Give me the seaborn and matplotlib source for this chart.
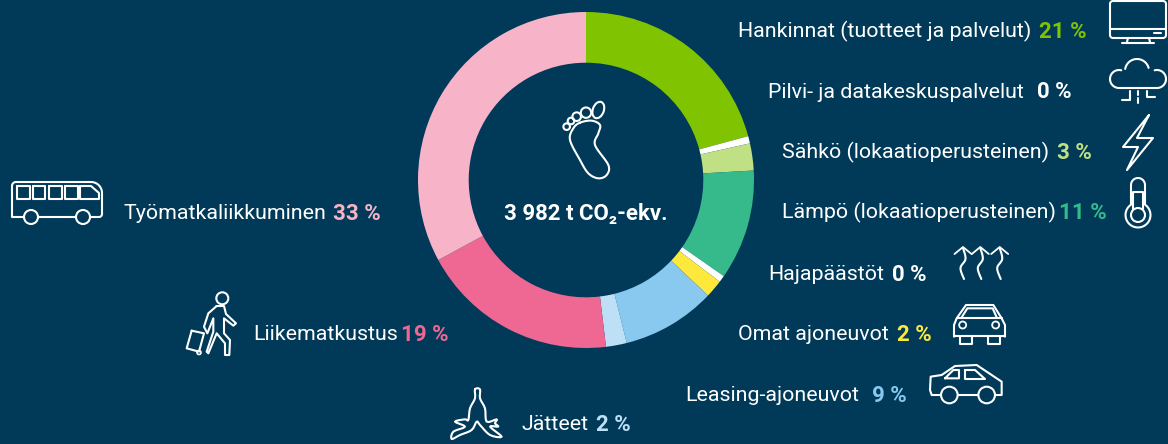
import numpy as np
import matplotlib
matplotlib.use('Agg')
import matplotlib.pyplot as plt
from matplotlib.patches import Circle, Ellipse
import seaborn as sns

# data
labels = ['Hankinnat (tuotteet ja palvelut)', 'Pilvi- ja datakeskuspalvelut', 'Sähkö (lokaatioperusteinen)',
          'Lämpö (lokaatioperusteinen)', 'Hajapäästöt', 'Omat ajoneuvot', 'Leasing-ajoneuvot', 'Jätteet',
          'Liikematkustus', 'Työmatkaliikkuminen']
percents = [21, 0, 3, 11, 0, 2, 9, 2, 19, 33]
# shares as drawn in the ring (the 0 % sectors still show as a thin sliver)
shares = [20.8, 0.7, 2.6, 10.6, 0.65, 1.72, 9.03, 2.0, 19.0, 32.9]
hex_colors = ['#80C300', '#FFFFFF', '#C0E084', '#36BA8C', '#FFFFFF', '#FFE83C', '#89C9F0', '#BDE0F7', '#EE6893',
              '#F7B3C8']
total_text = '3 982 t CO₂-ekv.'

BG = '#003A58'
W, H = 1168, 444

sns.set_theme(style='white', rc={'figure.facecolor': BG, 'savefig.facecolor': BG, 'axes.facecolor': BG})
plt.rcParams['font.family'] = ['Roboto', 'DejaVu Sans']
palette = sns.color_palette(hex_colors)

fig = plt.figure(figsize=(W / 100, H / 100), dpi=100)

# ring
cx, cy, R = 586, 180, 168
ax = fig.add_axes([(cx - R) / W, 1 - (cy + R) / H, 2 * R / W, 2 * R / H])
ax.pie(shares, colors=palette, startangle=90, counterclock=False, radius=1,
       wedgeprops={'width': 1 - 117.3 / R, 'linewidth': 0})
ax.set_xlim(-1, 1)
ax.set_ylim(-1, 1)
ax.axis('off')

# overlay in pixel coordinates for the texts and icons
ov = fig.add_axes([0, 0, 1, 1])
ov.set_xlim(0, W)
ov.set_ylim(H, 0)
ov.axis('off')
ov.patch.set_alpha(0)

label_left = [738, 768, 782, 782, 768, 738, 685, 521, 253, 123]
label_right = [1087, 1072, 1092, 1107, 927, 932, 907, 631, 449, 381]
label_y = [29, 90, 150, 210, 272, 332, 393, 422, 332, 211]
for i in range(len(labels)):
    ov.text(label_right[i], label_y[i], str(percents[i]) + ' %', color=palette[i], fontsize=16, fontweight='bold',
            ha='right', va='center_baseline')
    ov.text(label_left[i], label_y[i], labels[i], color='white', fontsize=15.4, ha='left', va='center_baseline')

ov.text(586, 211, total_text, color='white', fontsize=16, fontweight='bold', ha='center', va='center_baseline')


# icon helpers
def line(pts, close=False, lw=1.5):
    pts = np.array(pts, dtype=float)
    if close:
        pts = np.vstack([pts, pts[:1]])
    ov.plot(pts[:, 0], pts[:, 1], color='white', lw=lw, solid_joinstyle='round', solid_capstyle='round')


def smooth(pts, close=True, n=10):
    # catmull-rom through the points
    p = np.array(pts, dtype=float)
    if close:
        p = np.vstack([p[-1], p, p[:2]])
    else:
        p = np.vstack([p[0], p, p[-1]])
    out = []
    for i in range(1, len(p) - 2):
        for t in np.linspace(0, 1, n, endpoint=False):
            out.append(0.5 * (2 * p[i] + (p[i + 1] - p[i - 1]) * t + (2 * p[i - 1] - 5 * p[i] + 4 * p[i + 1] - p[i + 2]) * t ** 2
                              + (3 * p[i] - p[i - 1] - 3 * p[i + 1] + p[i + 2]) * t ** 3))
    out.append(p[-2])
    line(out)


def arc(x, y, r, a0, a1):
    a = np.radians(np.linspace(a0, a1, 30))
    line(np.column_stack([x + r * np.cos(a), y + r * np.sin(a)]))


def circ(x, y, r, lw=1.5):
    ov.add_patch(Circle((x, y), r, fill=False, ec='white', lw=lw))


def zoomed(pts, ox, oy):
    return [(ox + a / 3, oy + b / 3) for a, b in pts]


# monitor
line([(1113, 1), (1163, 1)]); arc(1163, 4, 3, -90, 0); line([(1166, 4), (1166, 35)]); arc(1163, 35, 3, 0, 90)
line([(1163, 38), (1113, 38)]); arc(1113, 35, 3, 90, 180); line([(1110, 35), (1110, 4)]); arc(1113, 4, 3, 180, 270)
line([(1110, 29), (1166, 29)])
line([(1154, 33), (1161, 33)])
line([(1128, 38), (1127, 42)]); line([(1149, 38), (1150, 42)]); line([(1122, 43), (1154, 43)])

# cloud
arc(1119, 79, 9, 90, 285)
arc(1137, 71, 12, 190, 345)
arc(1157, 79, 9, -105, 90)
line([(1119, 88), (1157, 88)])
line([(1130, 91), (1130, 100), (1122, 100)])
line([(1138, 91), (1138, 95)]); line([(1138, 98), (1138, 103)])
line([(1147, 91), (1147, 97), (1155, 97)])

# lightning
line([(1149, 115), (1123, 147), (1138, 147), (1127, 170), (1153, 138), (1137, 138)], close=True)

# thermometer
arc(1138, 185, 7, 180, 360)
line([(1131, 185), (1131, 204)]); line([(1145, 185), (1145, 204)])
arc(1138, 215, 12.5, -56, 236)
circ(1138, 215, 7)
line([(1133, 209), (1133, 192), (1143, 192), (1143, 209)])

# rising arrows
for dx in [0, 17.3, 36.7]:
    line([(954.5 + dx, 254), (963 + dx, 247), (971.5 + dx, 254)], lw=1.3)
    smooth([(963 + dx, 248), (965.5 + dx, 259), (960.5 + dx, 268), (964 + dx, 279)], close=False)

# front car
line(zoomed([(882, 320), (882, 285), (890, 265), (918, 225), (1000, 225), (1025, 265), (1035, 285), (1035, 320)], 660, 230))
line(zoomed([(882, 318), (1035, 318)], 660, 230))
line(zoomed([(890, 265), (1025, 265)], 660, 230))
line(zoomed([(905, 262), (922, 235), (998, 235), (1010, 262)], 660, 230))
circ(660 + 908 / 3, 230 + 285 / 3, 3.5, lw=1.3)
circ(660 + 1007 / 3, 230 + 285 / 3, 3.5, lw=1.3)
line(zoomed([(900, 320), (900, 342), (935, 342), (935, 320)], 660, 230))
line(zoomed([(985, 320), (985, 342), (1020, 342), (1020, 320)], 660, 230))

# side car
line(zoomed([(842, 495), (815, 495), (810, 480), (812, 440), (845, 435), (885, 408), (950, 405), (1010, 445), (1025, 455),
             (1025, 495), (1005, 495)], 660, 230))
line(zoomed([(893, 495), (955, 495)], 660, 230))
circ(660 + 868 / 3, 230 + 495 / 3, 8.3)
circ(660 + 980 / 3, 230 + 495 / 3, 8.3)
line(zoomed([(855, 445), (880, 420), (897, 420), (897, 445)], 660, 230), close=True)
line(zoomed([(915, 420), (945, 420), (975, 447), (915, 447)], 660, 230), close=True)

# bus
line([(24, 217), (12, 217), (12, 186)])
arc(16, 186, 4, 180, 270)
line([(16, 182), (91, 182)])
arc(91, 193, 11, -90, 0)
line([(102, 193), (102, 214)])
arc(99, 214, 3, 0, 90)
line([(99, 217), (90, 217)])
line([(39, 217), (76, 217)])
circ(31, 217, 7)
circ(83, 217, 7)
for x0, x1 in [(17, 29.5), (32.5, 45), (48.5, 61.5), (64.5, 77.5)]:
    line([(x0, 186), (x1, 186), (x1, 199), (x0, 199)], close=True)
line([(80, 186), (91, 186), (99, 193), (99, 199), (80, 199)], close=True)

# traveller
circ(222.3, 298.3, 6)
line(zoomed([(650, 408), (672, 408), (678, 432), (708, 460), (700, 467), (672, 445), (672, 490), (690, 510), (688, 555),
             (675, 555), (675, 520), (650, 490), (625, 550), (620, 545), (640, 485), (640, 445), (622, 490), (612, 470),
             (625, 430)], 0, 170), close=True)
line(zoomed([(575, 482), (612, 490), (597, 545), (560, 535)], 0, 170), close=True)
circ(199, 352.5, 2, lw=1.2)

# foot
ov.add_patch(Ellipse((410 + 565 / 3, 330 / 3), 11, 17, angle=20, fill=False, ec='white', lw=1.5))
circ(410 + 528 / 3, 338 / 3, 5.2)
circ(410 + 500 / 3, 350 / 3, 4.3)
circ(410 + 483 / 3, 363 / 3, 3.3)
circ(410 + 470 / 3, 380 / 3, 3.3)
smooth(zoomed([(510, 368), (545, 362), (570, 375), (565, 400), (555, 435), (595, 495), (590, 525), (565, 535), (535, 520),
               (510, 480), (480, 420), (490, 385)], 410, 0))

# bottle and peels
smooth(zoomed([(135, 58), (150, 58), (150, 85), (165, 115), (170, 155), (200, 148), (195, 160), (205, 170), (180, 170),
               (215, 200), (180, 195), (150, 165), (140, 155), (125, 180), (90, 195), (65, 207), (70, 185), (105, 170),
               (75, 155), (105, 148), (115, 150), (120, 115), (135, 85)], 430, 370), n=4)

fig.savefig('out.png', dpi=100, facecolor=BG)
